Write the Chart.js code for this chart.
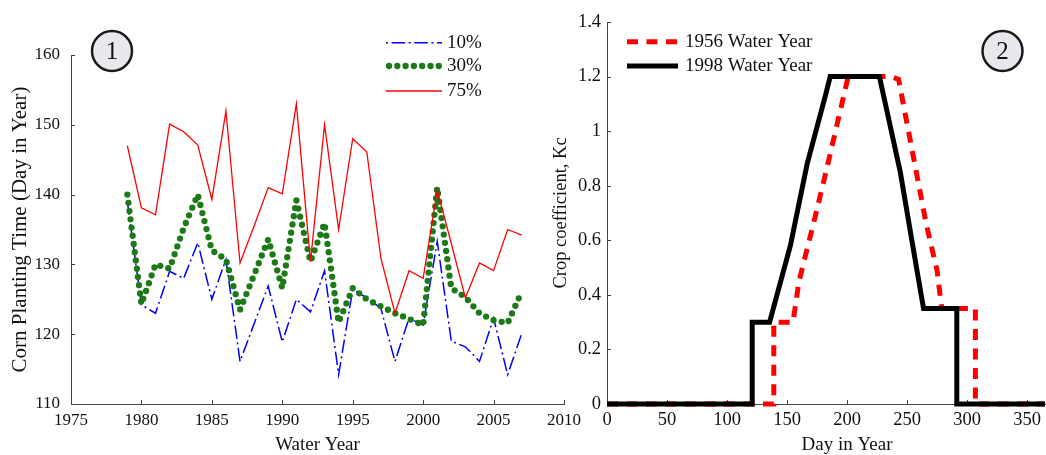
<!DOCTYPE html>
<html>
<head>
<meta charset="UTF-8" />
<title>Corn planting time and crop coefficient</title>
<script src="https://cdn.jsdelivr.net/npm/chart.js"></script>
<style>
    body { margin: 0; background: #fff; overflow: hidden; width: 1046px; height: 455px; position: relative; }
    #leftChart { position: absolute; left: 0; top: 0; }
    #rightChart { position: absolute; left: 530px; top: 0; }
</style>
</head>
<body>
<canvas id="leftChart" width="600" height="455"></canvas>
<canvas id="rightChart" width="560" height="455"></canvas>
<script>
// panel 1 : planting day per water year
var years = [1979,1980,1981,1982,1983,1984,1985,1986,1987,1988,1989,1990,1991,1992,1993,1994,1995,1996,1997,1998,1999,2000,2001,2002,2003,2004,2005,2006,2007];
var plant10 = [139,124.2,123,129,128,133.1,125,130.7,116.1,121.5,126.9,118.9,125,123.2,129.1,114.2,126.4,125.2,123.7,116.1,122.3,121.3,133.3,119,118.2,116.1,122.3,114.2,120.1];
var plant30 = [140,124.3,130,129.4,135.2,140,132,130.7,123.5,128.5,133.6,126.6,139.2,130.4,135.9,121.7,126.6,125,124,123,122.2,121.3,141,126.6,125.3,123,122,121.6,126.1];
var plant75 = [147,138.1,137.1,150.1,149,147.1,139.3,152,130.2,135.5,141,140.1,153,130.4,150,135,148,146.1,130.9,123,129.1,128,140.6,133,125.2,130.2,129.1,135,134.2];
var yearTicks = [1975,1980,1985,1990,1995,2000,2005,2010];
var dayTicks = [110,120,130,140,150,160];
var leftLegend = ['10%', '30%', '75%'];

// panel 2 : crop coefficient through the year
var day1956 = [0,139,139,155,160,172,183,201,236,243,266,275,279,307,307,365];
var kc1956  = [0,0,0.3,0.3,0.45,0.66,0.86,1.2,1.2,1.19,0.66,0.49,0.35,0.35,0,0];
var day1998 = [0,121,121,135.5,152.8,166.8,182,186,227,229,244.4,258.3,263.8,291.5,291.5,365];
var kc1998  = [0,0,0.3,0.3,0.58,0.88,1.13,1.2,1.2,1.16,0.85,0.49,0.35,0.35,0,0];
var doyTicks = [0,50,100,150,200,250,300,350];
var kcTicks = [0,0.2,0.4,0.6,0.8,1,1.2,1.4];
var rightLegend = ['1956 Water Year', '1998 Water Year'];

var serif = "'Liberation Serif', 'Times New Roman', serif";
var axisColor = '#444';
var textColor = '#111';

function pairs(xs, ys) {
    return xs.map(function(x, i) { return { x: x, y: ys[i] }; });
}

function fixedTicks(list) {
    return function(scale) {
        scale.ticks = list.map(function(v) { return { value: v }; });
    };
}

function plainNumber(v) {
    return String(parseFloat(Number(v).toFixed(1)));
}

// MATLAB style ticks pointing into the plot
var inwardTicks = {
    id: 'inwardTicks',
    beforeDatasetsDraw: function(chart) {
        var ctx = chart.ctx, a = chart.chartArea;
        var xs = chart.scales.x, ys = chart.scales.y;
        ctx.save();
        ctx.strokeStyle = axisColor;
        ctx.lineWidth = 1;
        ctx.beginPath();
        xs.ticks.forEach(function(t) {
            var px = Math.round(xs.getPixelForValue(t.value)) + 0.5;
            ctx.moveTo(px, a.bottom);
            ctx.lineTo(px, a.bottom - 4);
        });
        ys.ticks.forEach(function(t) {
            var py = Math.round(ys.getPixelForValue(t.value)) + 0.5;
            ctx.moveTo(a.left, py);
            ctx.lineTo(a.left + 4, py);
        });
        ctx.stroke();
        ctx.restore();
    }
};

function drawBadge(ctx, x, y, txt) {
    ctx.save();
    ctx.beginPath();
    ctx.arc(x, y, 20, 0, Math.PI * 2);
    ctx.fillStyle = '#e8e8ec';
    ctx.fill();
    ctx.lineWidth = 2.5;
    ctx.strokeStyle = '#1a1a1a';
    ctx.stroke();
    ctx.fillStyle = textColor;
    ctx.font = '25px ' + serif;
    ctx.textAlign = 'center';
    ctx.textBaseline = 'middle';
    ctx.fillText(txt, x, y + 1);
    ctx.restore();
}

function legendRow(ctx, x0, x1, y, style, label, textX) {
    ctx.save();
    ctx.beginPath();
    ctx.strokeStyle = style.color;
    ctx.lineWidth = style.width;
    ctx.lineCap = style.cap || 'butt';
    ctx.setLineDash(style.dash || []);
    ctx.moveTo(x0, y);
    ctx.lineTo(x1, y);
    ctx.stroke();
    ctx.setLineDash([]);
    ctx.fillStyle = textColor;
    ctx.font = '19px ' + serif;
    ctx.textAlign = 'left';
    ctx.textBaseline = 'middle';
    ctx.fillText(label, textX, y);
    ctx.restore();
}

var blueStyle = { color: '#0000ff', width: 1.5, dash: [2, 3.6, 13.5, 3.6] };
var greenStyle = { color: '#1c7a16', width: 6.3, dash: [0, 8.3], cap: 'round' };
var redStyle = { color: '#ff0000', width: 1.3 };

var leftDecor = {
    id: 'leftDecor',
    afterDraw: function(chart) {
        var ctx = chart.ctx;
        legendRow(ctx, 386, 442, 42.7, blueStyle, leftLegend[0], 447);
        legendRow(ctx, 389, 439, 66, greenStyle, leftLegend[1], 447);
        legendRow(ctx, 386, 442, 91, redStyle, leftLegend[2], 447);
        drawBadge(ctx, 112, 51, '1');
    }
};

var rightDecor = {
    id: 'rightDecor',
    afterDraw: function(chart) {
        var ctx = chart.ctx;
        legendRow(ctx, 97, 148, 41.7, { color: '#ff0000', width: 5, dash: [11, 8.5] }, rightLegend[0], 155);
        legendRow(ctx, 97, 148, 66, { color: '#000', width: 5 }, rightLegend[1], 155);
        drawBadge(ctx, 472.5, 51, '2');
    }
};

new Chart(document.getElementById('leftChart'), {
    type: 'line',
    data: {
        datasets: [{
            label: leftLegend[0],
            data: pairs(years, plant10),
            borderColor: blueStyle.color,
            borderWidth: blueStyle.width,
            borderDash: [13.5, 3.6, 2, 3.6],
            order: 2
        }, {
            label: leftLegend[1],
            data: pairs(years, plant30),
            borderColor: greenStyle.color,
            borderWidth: greenStyle.width,
            borderDash: greenStyle.dash,
            borderCapStyle: 'round',
            order: 1
        }, {
            label: leftLegend[2],
            data: pairs(years, plant75),
            borderColor: redStyle.color,
            borderWidth: redStyle.width,
            order: 0
        }]
    },
    options: {
        responsive: false,
        animation: false,
        layout: { padding: { top: 55, right: 36, left: 0, bottom: 0 } },
        elements: { point: { radius: 0 }, line: { tension: 0, fill: false } },
        plugins: { legend: { display: false }, tooltip: { enabled: false } },
        scales: {
            x: {
                type: 'linear', min: 1975, max: 2010,
                afterBuildTicks: fixedTicks(yearTicks),
                afterFit: function(s) { s.height = 51; },
                grid: { display: false, drawTicks: false },
                border: { display: true, color: axisColor, width: 1 },
                ticks: { color: textColor, font: { family: serif, size: 17, lineHeight: 1.2 }, padding: 6, maxRotation: 0, autoSkip: false, callback: plainNumber },
                title: { display: true, text: 'Water Year', color: textColor, font: { family: serif, size: 19, lineHeight: 1 }, padding: 0 }
            },
            y: {
                min: 110, max: 160,
                afterBuildTicks: fixedTicks(dayTicks),
                afterFit: function(s) { s.width = 71; },
                grid: { display: false, drawTicks: false },
                border: { display: true, color: axisColor, width: 1 },
                ticks: { color: textColor, font: { family: serif, size: 17 }, padding: 11, autoSkip: false, callback: plainNumber },
                title: { display: true, text: 'Corn Planting Time (Day in Year)', color: textColor, font: { family: serif, size: 21, lineHeight: 1 }, padding: { top: 9.5, bottom: 0 } }
            }
        }
    },
    plugins: [inwardTicks, leftDecor]
});

new Chart(document.getElementById('rightChart'), {
    type: 'line',
    data: {
        datasets: [{
            label: rightLegend[0],
            data: pairs(day1956, kc1956),
            borderColor: '#ff0000',
            borderWidth: 5,
            borderDash: [11, 8.5],
            clip: false,
            order: 1
        }, {
            label: rightLegend[1],
            data: pairs(day1998, kc1998),
            borderColor: '#000',
            borderWidth: 5,
            clip: false,
            order: 0
        }]
    },
    options: {
        responsive: false,
        animation: false,
        layout: { padding: { top: 22, right: 3, left: 0, bottom: 0 } },
        elements: { point: { radius: 0 }, line: { tension: 0, fill: false } },
        plugins: { legend: { display: false }, tooltip: { enabled: false } },
        scales: {
            x: {
                type: 'linear', min: 0, max: 400,
                afterBuildTicks: fixedTicks(doyTicks),
                afterFit: function(s) { s.height = 51; },
                grid: { display: false, drawTicks: false },
                border: { display: true, color: axisColor, width: 1 },
                ticks: { color: textColor, font: { family: serif, size: 18.5, lineHeight: 1.2 }, padding: 4.7, maxRotation: 0, autoSkip: false, callback: plainNumber },
                title: { display: true, text: 'Day in Year', color: textColor, font: { family: serif, size: 19, lineHeight: 1 }, padding: 0 }
            },
            y: {
                min: 0, max: 1.4,
                afterBuildTicks: fixedTicks(kcTicks),
                afterFit: function(s) { s.width = 77; },
                grid: { display: false, drawTicks: false },
                border: { display: true, color: axisColor, width: 1 },
                ticks: { color: textColor, font: { family: serif, size: 18.5 }, padding: 6, autoSkip: false, callback: plainNumber },
                title: { display: true, text: 'Crop coefficient, Kc', color: textColor, font: { family: serif, size: 18.5, lineHeight: 1 }, padding: { top: 21.75, bottom: 0 } }
            }
        }
    },
    plugins: [inwardTicks, rightDecor]
});
</script>
</body>
</html>
